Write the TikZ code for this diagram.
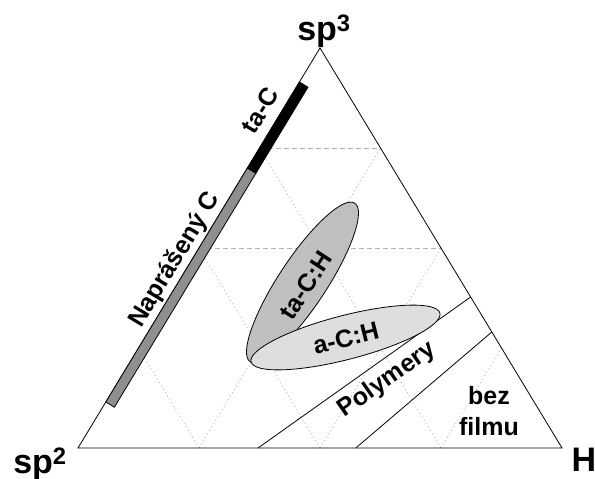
\documentclass[tikz,border=0pt]{standalone}
\usepackage{fontspec}
\setmainfont{Liberation Sans}
\usepackage{xcolor}
\usepackage{tikz}
\usetikzlibrary{calc}
\definecolor{bargray}{gray}{0.56}
\definecolor{tachgray}{gray}{0.75}
\definecolor{achgray}{gray}{0.87}

\begin{document}
\begin{tikzpicture}[x=1pt,y=1pt,
    edge/.style={line width=0.8pt,black},
    gridh/.style={line width=0.7pt,black!30,dash pattern=on 5pt off 3pt},
    gridd/.style={line width=0.7pt,black!30,dash pattern=on 1.2pt off 2.8pt},
    blob/.style={line width=0.8pt,black},
    lbl/.style={font=\bfseries\fontsize{25}{31}\selectfont,inner sep=0pt},
    corner/.style={font=\bfseries\fontsize{34}{38}\selectfont,inner sep=0pt}]
    \useasboundingbox (0,0) rectangle (595,479);
    % corners
        \coordinate (sp2) at (78,31);
        \coordinate (H) at (562,31);
        \coordinate (sp3) at (320,431);
    % grid
        \foreach \i in {1,2,3}{
            \draw[gridd] ($(sp2)!{\i/4}!(H)$) -- ($(H)!{1-\i/4}!(sp3)$);
            \draw[gridd] ($(sp2)!{\i/4}!(H)$) -- ($(sp2)!{\i/4}!(sp3)$);
        }
        \foreach \k in {0.5,0.75}{
            \draw[gridh] ($(sp2)!\k!(sp3)$) -- ($(H)!\k!(sp3)$);
        }
    % triangle
        \draw[edge] (sp2) -- (H) -- (sp3) -- cycle;
    % polymer band
        \coordinate (p1) at ($(sp2)!0.372!(H)$);
        \coordinate (p2) at ($(H)!0.3775!(sp3)$);
        \coordinate (q1) at ($(sp2)!0.574!(H)$);
        \coordinate (q2) at ($(H)!0.29!(sp3)$);
        \draw[edge] (p1) -- (p2);
        \draw[edge] (q1) -- (q2);
    % ellipses
        \coordinate (tach) at (302.5,196.5);
        \coordinate (ach) at (345.5,141.5);
        \draw[blob,fill=tachgray] (tach) circle [x radius=95,y radius=24,rotate=56.6];
        \draw[blob,fill=achgray] (ach) circle [x radius=97.5,y radius=22,rotate=14.5];
    % bars on the left side
        \coordinate (b0) at ($(sp2)!0.115!(sp3)$);
        \coordinate (b1) at ($(sp2)!0.70!(sp3)$);
        \coordinate (b2) at ($(sp2)!0.915!(sp3)$);
        \coordinate (b0i) at ($(b0)!10pt!-90:(sp3)$);
        \coordinate (b1i) at ($(b1)!10pt!-90:(sp3)$);
        \coordinate (b2i) at ($(b2)!10pt!-90:(sp3)$);
        \draw[blob,fill=bargray] (b0) -- (b1) -- (b1i) -- (b0i) -- cycle;
        \draw[blob,fill=black] (b1) -- (b2) -- (b2i) -- (b1i) -- cycle;
    % labels
        \node[corner] (lsp3) at (324,448) {sp\textsuperscript{3}};
        \node[corner] (lsp2) at (40,15) {sp\textsuperscript{2}};
        \node[corner] (lh) at (584,19) {H};
        \node[lbl,rotate=58.8] (ltac) at (260,369) {ta-C};
        \node[lbl,rotate=58.8] (lnap) at (175,219) {Naprášený C};
        \node[lbl,rotate=57] (ltach) at (306,194) {ta-C:H};
        \node[lbl,rotate=14] (lach) at (346,141) {a-C:H};
        \node[lbl,rotate=35] (lpoly) at (387,99) {Polymery};
        \node[lbl,align=center] (lbez) at (489,68) {bez\\filmu};
\end{tikzpicture}
\end{document}
